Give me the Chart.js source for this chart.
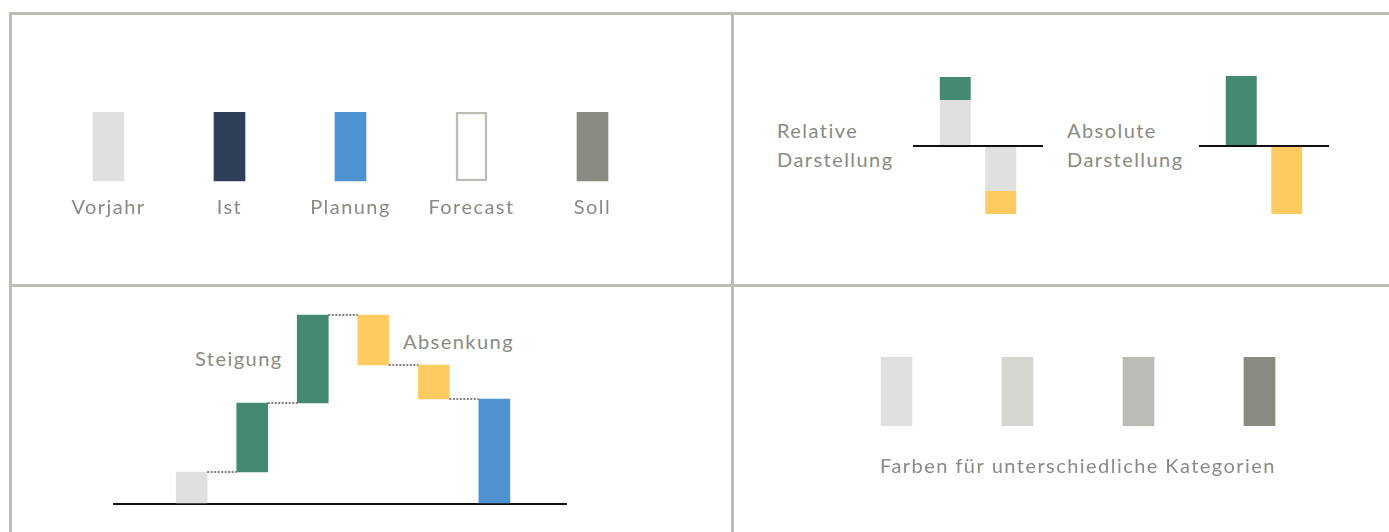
<!DOCTYPE html>
<html>
<head>
<meta charset="utf-8">
<script src="https://cdn.jsdelivr.net/npm/chart.js@4/dist/chart.umd.min.js"></script>
<style>
    body { margin: 0; background: #fff; }
    #page { position: relative; width: 1389px; height: 532px; overflow: hidden; font-family: Lato, sans-serif; }
    .line { position: absolute; background: #bdbdb5; }
    .box { position: absolute; }
    .note { position: absolute; font-size: 20px; line-height: 29px; color: #8a8a82; letter-spacing: 1.45px; white-space: nowrap; }
</style>
</head>
<body>
<div id="page">
    <div class="line" style="left:9px; top:12px; width:1380px; height:3px"></div>
    <div class="line" style="left:9px; top:284px; width:1380px; height:3px"></div>
    <div class="line" style="left:9px; top:12px; width:3px; height:520px"></div>
    <div class="line" style="left:731px; top:12px; width:3px; height:520px"></div>

    <div class="box" style="left:48px; top:112px; width:605px; height:123px"><canvas id="legend-canvas"></canvas></div>

    <div class="note" style="left:777px; top:116px">Relative<br>Darstellung</div>
    <div class="box" style="left:913px; top:74px; width:130px; height:142px"><canvas id="rel-canvas"></canvas></div>
    <div class="note" style="left:1067px; top:116px">Absolute<br>Darstellung</div>
    <div class="box" style="left:1199px; top:74px; width:130px; height:142px"><canvas id="abs-canvas"></canvas></div>

    <div class="note" style="left:195px; top:344px">Steigung</div>
    <div class="note" style="left:403px; top:327px">Absenkung</div>
    <div class="box" style="left:113px; top:304px; width:454px; height:210px"><canvas id="wf-canvas"></canvas></div>

    <div class="box" style="left:836px; top:357px; width:484px; height:122px"><canvas id="cat-canvas"></canvas></div>
</div>
<script>
const legendLabels = ["Vorjahr", "Ist", "Planung", "Forecast", "Soll"];
const legendValues = [1, 1, 1, 1, 1];
const legendColors = ["#e0e0df", "#2f3f58", "#4e93cf", "#ffffff", "#8a8a80"];
const legendBorders = ["#e0e0df", "#2f3f58", "#4e93cf", "#bcbcb5", "#8a8a80"];

// relative vs absolute deviation (up / down)
const relBase = [46, -45];
const relDelta = [23, -23];
const absDelta = [70, -68];

// waterfall: start value, changes, end is the sum
const wfStart = 32;
const wfSteps = [69, 88, -50, -34];
const wfColors = ["#e0e0df", "#448a72", "#448a72", "#fecb63", "#fecb63", "#4e93cf"];

const catLabels = ["A", "B", "C", "D"];
const catValues = [1, 1, 1, 1];
const catColors = ["#e0e0df", "#d5d5d1", "#bbbbb5", "#8a8a80"];

const textGrey = "#8a8a82";
const green = "#448a72";
const yellow = "#fecb63";
const lightGrey = "#e0e0df";

Chart.defaults.font.family = "Lato, sans-serif";
Chart.defaults.color = textGrey;
Chart.defaults.animation = false;
Chart.defaults.plugins.legend.display = false;
Chart.defaults.plugins.tooltip.enabled = false;
Chart.defaults.responsive = true;
Chart.defaults.maintainAspectRatio = false;

// the labels in the picture are spaced out a bit
const spacing = {
    id: "spacing",
    beforeLayout(chart) { chart.ctx.letterSpacing = "1.45px"; },
    beforeDraw(chart) { chart.ctx.letterSpacing = "1.45px"; },
};

// only the zero line is visible
const zeroLine = {
    color: c => c.tick.value === 0 ? "#111" : "rgba(0,0,0,0)",
    lineWidth: 2,
    drawTicks: false,
};
const hiddenX = { display: false };

new Chart("legend-canvas", {
    type: "bar",
    data: {
        labels: legendLabels,
        datasets: [{
            data: legendValues,
            backgroundColor: legendColors,
            borderColor: legendBorders,
            borderWidth: [0, 0, 0, 2.5, 0],
            borderSkipped: false,
            barThickness: 31,
            clip: false,
        }],
    },
    options: {
        scales: {
            x: {
                grid: { display: false, drawTicks: false },
                border: { display: false },
                ticks: { padding: 15, font: { size: 20 }, color: textGrey },
            },
            y: { display: false, min: 0, max: 1 },
        },
    },
    plugins: [spacing],
});

function deviationOptions() {
    return {
        datasets: { bar: { categoryPercentage: 0.7, barPercentage: 0.68 } },
        scales: {
            x: hiddenX,
            y: {
                stacked: true,
                min: -70,
                max: 72,
                z: 1,
                grid: zeroLine,
                border: { display: false },
                ticks: { display: false, stepSize: 10 },
            },
        },
    };
}

new Chart("rel-canvas", {
    type: "bar",
    data: {
        labels: [""],
        datasets: [
            { data: [relBase[0]], backgroundColor: lightGrey, stack: "up" },
            { data: [relDelta[0]], backgroundColor: green, stack: "up" },
            { data: [relBase[1]], backgroundColor: lightGrey, stack: "down" },
            { data: [relDelta[1]], backgroundColor: yellow, stack: "down" },
        ],
    },
    options: deviationOptions(),
});

new Chart("abs-canvas", {
    type: "bar",
    data: {
        labels: [""],
        datasets: [
            { data: [absDelta[0]], backgroundColor: green, stack: "up" },
            { data: [absDelta[1]], backgroundColor: yellow, stack: "down" },
        ],
    },
    options: deviationOptions(),
});

// build floating bars from the steps
const wfLevels = [wfStart];
wfSteps.forEach(s => wfLevels.push(wfLevels[wfLevels.length - 1] + s));
const wfEnd = wfLevels[wfLevels.length - 1];
const wfBars = [[0, wfStart]];
for (let i = 0; i < wfSteps.length; i++) {
    wfBars.push([wfLevels[i], wfLevels[i + 1]]);
}
wfBars.push([0, wfEnd]);

const connectors = {
    id: "connectors",
    afterDatasetsDraw(chart) {
        const bars = chart.getDatasetMeta(0).data;
        const y = chart.scales.y;
        const ctx = chart.ctx;
        ctx.save();
        ctx.strokeStyle = "#555";
        ctx.lineWidth = 1.5;
        ctx.setLineDash([2, 1.5]);
        for (let i = 0; i < bars.length - 1; i++) {
            const py = y.getPixelForValue(wfLevels[i]);
            ctx.beginPath();
            ctx.moveTo(bars[i].x + bars[i].width / 2, py);
            ctx.lineTo(bars[i + 1].x - bars[i + 1].width / 2, py);
            ctx.stroke();
        }
        ctx.restore();
    },
};

new Chart("wf-canvas", {
    type: "bar",
    data: {
        datasets: [{
            data: wfBars.map((b, i) => ({ x: i, y: b })),
            backgroundColor: wfColors,
            barThickness: 31,
        }],
    },
    options: {
        scales: {
            x: { type: "linear", min: -1.3, max: 6.2, offset: false, display: false },
            y: {
                min: -10,
                max: 200,
                z: 1,
                grid: zeroLine,
                border: { display: false },
                ticks: { display: false, stepSize: 10 },
            },
        },
    },
    plugins: [connectors],
});

new Chart("cat-canvas", {
    type: "bar",
    data: {
        labels: catLabels,
        datasets: [{
            data: catValues,
            backgroundColor: catColors,
            barThickness: 31,
        }],
    },
    options: {
        scales: {
            x: {
                grid: { display: false, drawTicks: false },
                border: { display: false },
                ticks: { display: false },
                title: {
                    display: true,
                    text: "Farben für unterschiedliche Kategorien",
                    font: { size: 20 },
                    color: textGrey,
                    padding: { top: 29, bottom: 0 },
                },
            },
            y: { display: false, min: 0, max: 1 },
        },
    },
    plugins: [spacing],
});
</script>
</body>
</html>
